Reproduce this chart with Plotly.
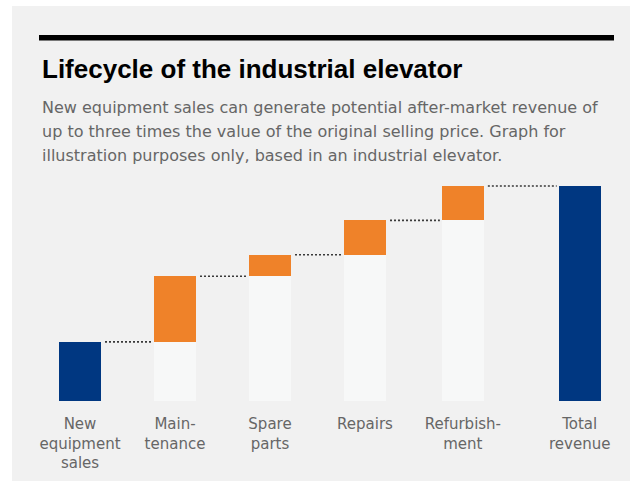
import plotly.graph_objects as go
import numpy as np

# ---- data ----
categories = ["New<br>equipment<br>sales", "Main-<br>tenance", "Spare<br>parts",
              "Repairs", "Refurbish-<br>ment", "Total<br>revenue"]
new_equipment = 27.5
aftermarket_steps = [30.5, 10, 16, 16]   # maintenance, spare parts, repairs, refurbishment
total_revenue = 100

# ---- layout constants ----
W, H = 630, 481
M_L, M_R, M_T, M_B = 0, 0, 150, 80
x_pos = [0, 1, 2, 3, 4.03, 5.26]
bar_w = 0.442
px_per_unit = 95.0
x0_px = 80.0
x_range = [(0 - x0_px) / px_per_unit, (W - x0_px) / px_per_unit]
plot_h = H - M_T - M_B
y_top = plot_h / 2.15

BLUE = "#003781"
ORANGE = "#ef8229"
LIGHT = "#f7f8f8"
PANEL = "#f1f1f1"

cum = np.cumsum([new_equipment] + aftermarket_steps)
base_vals = [new_equipment] + list(cum[:-1]) + [total_revenue]
inc_vals = [0] + aftermarket_steps + [0]
base_colors = [BLUE] + [LIGHT] * len(aftermarket_steps) + [BLUE]

fig = go.Figure()
fig.add_trace(go.Bar(x=x_pos, y=base_vals, width=bar_w, marker=dict(color=base_colors, line=dict(width=0)),
                     hoverinfo="skip", showlegend=False))
fig.add_trace(go.Bar(x=x_pos, y=inc_vals, width=bar_w, marker=dict(color=ORANGE, line=dict(width=0)),
                     hoverinfo="skip", showlegend=False))

levels = list(cum)
for i in range(len(levels)):
    xa = x_pos[i] + bar_w / 2 + 4 / px_per_unit
    xb = x_pos[i + 1] - bar_w / 2 - 2 / px_per_unit
    fig.add_trace(go.Scatter(x=[xa, xb], y=[levels[i], levels[i]], mode="lines",
                             line=dict(color="#3a3a3a", width=1.6, dash="2px,2px"),
                             hoverinfo="skip", showlegend=False))

def px_x(p):
    return (p - M_L) / (W - M_L - M_R)

def px_y(p):
    return (H - M_B - p) / plot_h

shapes = [
    dict(type="rect", xref="paper", yref="paper", x0=px_x(12), x1=px_x(640), y0=px_y(481), y1=px_y(6),
         fillcolor=PANEL, line=dict(width=0), layer="below"),
    dict(type="rect", xref="paper", yref="paper", x0=px_x(39), x1=px_x(614), y0=px_y(40.5), y1=px_y(35),
         fillcolor="#000000", line=dict(width=0), layer="above"),
]

title_font = dict(family="Liberation Sans, Arial", size=26, color="#000000")
sub_font = dict(family="DejaVu Sans", size=16, color="#666666")
annotations = [
    dict(text="<b>Lifecycle of the industrial elevator</b>", x=px_x(40), y=px_y(68.7), xref="paper", yref="paper",
         xanchor="left", yanchor="middle", showarrow=False, font=title_font),
]
sub_lines = ["New equipment sales can generate potential after-market revenue of",
             "up to three times the value of the original selling price. Graph for",
             "illustration purposes only, based in an industrial elevator."]
for k, (line, yc) in enumerate(zip(sub_lines, [107.8, 131.5, 155.0])):
    annotations.append(dict(text=line, x=px_x(40), y=px_y(yc), xref="paper", yref="paper",
                            xanchor="left", yanchor="middle", showarrow=False, font=sub_font))

fig.update_layout(
    width=W, height=H,
    margin=dict(l=M_L, r=M_R, t=M_T, b=M_B, pad=0),
    paper_bgcolor="#ffffff", plot_bgcolor="rgba(0,0,0,0)",
    barmode="stack", bargap=0,
    shapes=shapes, annotations=annotations,
    xaxis=dict(range=x_range, tickvals=x_pos, ticktext=categories, showgrid=False, zeroline=False,
               showline=False, ticks="", ticklabelstandoff=12,
               tickfont=dict(family="DejaVu Sans", size=15, color="#666666"),
               fixedrange=True),
    yaxis=dict(range=[0, y_top], visible=False, fixedrange=True),
)
fig.write_html("out.html", config={"displayModeBar": False})
